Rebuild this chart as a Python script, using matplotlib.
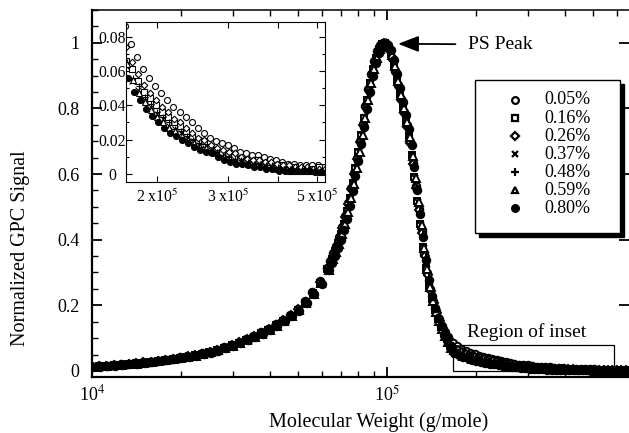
import numpy as np
import matplotlib
matplotlib.use("Agg")
import matplotlib.pyplot as plt
from matplotlib.patches import Rectangle
from matplotlib.ticker import FixedLocator, LogLocator, MultipleLocator, NullFormatter

plt.rcParams["font.family"] = ["Liberation Serif", "DejaVu Serif"]
plt.rcParams["mathtext.fontset"] = "stix"

# sampling grids in log10(M): low-MW side, peak, high-MW tail.
# runs B are sliced half a step later across the peak than runs A
LOG_MW_A = np.concatenate([
    np.arange(4.0, 4.8001, 0.025),
    np.arange(4.81, 5.2101, 0.01),
    np.arange(5.225, 5.8251, 0.015),
])
LOG_MW_B = np.concatenate([
    np.arange(4.0, 4.8001, 0.025),
    np.arange(4.815, 5.2151, 0.01),
    np.arange(5.225, 5.8251, 0.015),
])
# small per-run shift of the slices
SLICE_OFFSET = [-0.003, -0.002, -0.001, 0.0, 0.001, 0.002, 0.003]

LABELS = ["0.05%", "0.16%", "0.26%", "0.37%", "0.48%", "0.59%", "0.80%"]

# normalized GPC signal (low side + peak + tail)
sig_005 = [
    .014, .015, .016, .018, .020, .021, .024, .026, .028, .031, .034, .037, .041, .045, .049, .054, .059,
    .065, .072, .080, .088, .097, .107, .118, .129, .142, .156, .171, .190, .213, .240, .273, .315,
    .336, .358, .382, .408, .438, .472, .512, .556, .602, .650, .700, .752, .806, .858, .905, .945, .975,
    .992, 1.000, .996, .982, .955, .914, .870, .830, .790, .748, .698, .634, .563, .494, .425, .357, .297,
    .250, .213, .184, .158, .136, .118, .102,
    .086, .076, .068, .061, .056, .051, .047, .043, .039, .036, .033, .030, .027, .024, .021, .019, .018,
    .017, .015, .013, .012, .011, .011, .010, .009, .008, .007, .006, .006, .005, .005, .005, .005, .004,
    .004, .004, .003, .003, .003, .003, .002,
]
sig_016 = [
    .012, .014, .015, .017, .019, .020, .023, .025, .027, .030, .033, .036, .039, .043, .048, .052, .058,
    .063, .070, .078, .086, .095, .104, .115, .126, .139, .153, .168, .186, .208, .236, .268, .310,
    .341, .364, .389, .417, .449, .486, .527, .572, .618, .667, .718, .772, .826, .877, .920, .955, .980,
    .996, .999, .988, .965, .930, .887, .844, .804, .763, .716, .658, .590, .519, .449, .379, .315, .260,
    .218, .185, .157, .133, .113, .096, .077,
    .066, .061, .054, .048, .044, .040, .036, .033, .030, .028, .025, .022, .020, .019, .016, .014, .012,
    .012, .010, .009, .008, .007, .008, .006, .006, .005, .005, .004, .004, .003, .003, .003, .004, .002,
    .002, .002, .002, .002, .002, .002, .001,
]
sig_026 = [
    .013, .014, .016, .017, .019, .021, .023, .026, .028, .030, .033, .037, .040, .044, .049, .053, .059,
    .065, .071, .079, .087, .096, .106, .116, .128, .141, .155, .170, .188, .211, .238, .271, .313,
    .334, .356, .379, .406, .436, .470, .510, .554, .600, .647, .697, .750, .804, .857, .904, .944, .973,
    .991, 1.000, .996, .981, .953, .912, .868, .827, .787, .744, .694, .630, .559, .489, .419, .351, .291,
    .243, .207, .177, .152, .130, .111, .096,
    .074, .065, .058, .052, .047, .043, .039, .036, .032, .030, .027, .024, .021, .020, .017, .015, .014,
    .013, .012, .010, .009, .008, .008, .007, .007, .006, .005, .005, .004, .004, .004, .003, .003, .003,
    .003, .003, .002, .002, .002, .002, .002,
]
sig_037 = [
    .012, .013, .015, .017, .018, .020, .022, .025, .027, .029, .032, .035, .039, .043, .047, .052, .057,
    .063, .070, .077, .086, .094, .104, .115, .126, .139, .152, .167, .185, .208, .235, .268, .309,
    .341, .363, .388, .417, .448, .485, .527, .572, .619, .668, .719, .773, .826, .877, .920, .956, .981,
    .996, .998, .987, .964, .929, .886, .843, .803, .762, .715, .657, .588, .516, .446, .376, .312, .257,
    .215, .182, .154, .130, .109, .092, .072,
    .063, .054, .049, .043, .039, .035, .032, .028, .026, .024, .021, .019, .017, .015, .014, .012, .010,
    .009, .008, .008, .007, .006, .005, .005, .004, .003, .003, .003, .003, .002, .003, .002, .002, .001,
    .002, .002, .001, .002, .001, .001, .001,
]
sig_048 = [
    .013, .014, .015, .017, .019, .021, .023, .025, .027, .030, .032, .036, .040, .043, .048, .053, .058,
    .064, .070, .078, .086, .095, .105, .116, .127, .140, .153, .168, .187, .209, .236, .269, .311,
    .332, .354, .377, .404, .434, .467, .507, .551, .597, .644, .694, .747, .801, .854, .901, .941, .971,
    .990, 1.000, .995, .980, .951, .909, .865, .824, .784, .741, .691, .626, .554, .483, .413, .345, .284,
    .235, .199, .169, .144, .121, .102, .086,
    .065, .056, .051, .045, .041, .036, .033, .030, .026, .025, .022, .020, .018, .016, .014, .013, .011,
    .010, .009, .008, .007, .006, .006, .005, .005, .004, .003, .003, .003, .003, .003, .002, .002, .002,
    .002, .002, .001, .002, .002, .001, .001,
]
sig_059 = [
    .012, .014, .015, .017, .018, .020, .022, .025, .027, .029, .032, .035, .039, .043, .047, .052, .057,
    .063, .069, .077, .085, .094, .104, .114, .125, .138, .152, .167, .185, .207, .235, .267, .309,
    .340, .363, .388, .416, .448, .484, .526, .571, .618, .667, .718, .772, .825, .876, .919, .955, .980,
    .995, .998, .986, .964, .928, .885, .842, .802, .760, .714, .656, .587, .515, .445, .375, .311, .256,
    .214, .181, .153, .128, .107, .089, .071,
    .064, .055, .047, .042, .037, .033, .030, .027, .025, .022, .020, .018, .016, .015, .013, .011, .010,
    .009, .007, .007, .006, .005, .005, .004, .004, .003, .003, .002, .002, .002, .002, .002, .001, .001,
    .002, .001, .001, .001, .001, .001, .001,
]
sig_080 = [
    .012, .013, .015, .016, .018, .020, .022, .024, .026, .029, .032, .035, .038, .042, .047, .051, .056,
    .062, .069, .076, .085, .093, .103, .114, .125, .137, .151, .166, .184, .206, .234, .266, .308,
    .329, .350, .374, .400, .430, .464, .503, .547, .593, .641, .691, .744, .798, .851, .898, .939, .970,
    .989, 1.000, .994, .978, .949, .906, .862, .821, .781, .738, .688, .622, .550, .478, .407, .338, .278,
    .229, .192, .162, .136, .113, .093, .076,
    .056, .048, .043, .038, .034, .030, .027, .024, .022, .020, .018, .016, .014, .013, .012, .010, .008,
    .007, .006, .006, .005, .004, .004, .003, .003, .002, .002, .002, .002, .002, .002, .001, .001, .001,
    .001, .001, .001, .001, .001, .001, .001,
]
SERIES = [sig_005, sig_016, sig_026, sig_037, sig_048, sig_059, sig_080]
GRIDS = [LOG_MW_A, LOG_MW_B, LOG_MW_A, LOG_MW_B, LOG_MW_A, LOG_MW_B, LOG_MW_A]

REGION_MW = (1.67e5, 5.9e5)
REGION_TOP = 0.079
PEAK_MW, PEAK_Y = 1.09e5, 0.997

STYLES = [
    dict(marker="o", mfc="white", ms=5.4),
    dict(marker="s", mfc="white", ms=5.0),
    dict(marker="D", mfc="white", ms=4.2),
    dict(marker="x", ms=5.0),
    dict(marker="+", ms=5.8),
    dict(marker="^", mfc="white", ms=5.4),
    dict(marker="o", mfc="black", ms=5.4),
]

fig = plt.figure(figsize=(6.29, 4.33), dpi=100)
ax = fig.add_axes([92 / 629, 1 - 376.5 / 433, 537 / 629, 366.5 / 433])

for y, grid, off, st in zip(SERIES, GRIDS, SLICE_OFFSET, STYLES):
    ax.plot(10 ** (grid + off), y, ls="none", color="black", mec="black", mew=1.4, **st)

ax.set_xscale("log")
ax.set_xlim(1e4, 6.61e5)
ax.set_ylim(-0.017, 1.10)
ax.xaxis.set_major_locator(FixedLocator([1e4, 1e5]))
ax.set_xticklabels(["10$^4$", "10$^5$"])
ax.xaxis.set_minor_locator(LogLocator(base=10, subs=np.arange(2, 10), numticks=20))
ax.xaxis.set_minor_formatter(NullFormatter())
ax.yaxis.set_major_locator(FixedLocator([0, 0.2, 0.4, 0.6, 0.8, 1.0]))
ax.set_yticklabels(["0", "0.2", "0.4", "0.6", "0.8", "1"])
ax.yaxis.set_minor_locator(MultipleLocator(0.05))
ax.tick_params(which="both", direction="in", top=True, right=True, labelsize=13)
ax.tick_params(which="major", length=7, width=1.3)
ax.tick_params(which="minor", length=4, width=1.0)
ax.tick_params(axis="y", which="minor", right=False)
ax.tick_params(axis="x", pad=6)
ax.tick_params(axis="y", pad=9)
for side in ["left", "bottom"]:
    ax.spines[side].set_linewidth(1.6)
ax.spines["top"].set_linewidth(1.1)
ax.spines["right"].set_visible(False)

ax.set_xlabel("Molecular Weight (g/mole)", fontsize=14.5)
ax.set_ylabel("Normalized GPC Signal", fontsize=14.5)
ax.xaxis.set_label_coords(0.533, -0.098)
ax.yaxis.set_label_coords(-0.116, 0.349)

# region of inset box + label
ax.add_patch(Rectangle((REGION_MW[0], 0), REGION_MW[1] - REGION_MW[0], REGION_TOP,
                       fill=False, edgecolor="black", lw=0.9, zorder=1))
ax.text(2.98e5, 0.117, "Region of inset", ha="center", va="center", fontsize=14)

ax.annotate("PS Peak", xy=(PEAK_MW, PEAK_Y), xytext=(1.88e5, 0.995),
            ha="left", va="center", fontsize=14,
            arrowprops=dict(arrowstyle="-|>,head_length=0.9,head_width=0.35",
                            color="black", lw=1.3, shrinkA=7, shrinkB=0))

# legend drawn by hand to get the boxed, shadowed look
lx0, lx1, ly0, ly1 = 0.713, 0.983, 0.3915, 0.809
ax.add_patch(Rectangle((lx0 + 0.0075, ly0 - 0.011), lx1 - lx0, ly1 - ly0,
                       transform=ax.transAxes, facecolor="black", edgecolor="black", zorder=5))
ax.add_patch(Rectangle((lx0, ly0), lx1 - lx0, ly1 - ly0, transform=ax.transAxes,
                       facecolor="white", edgecolor="black", lw=1.0, zorder=6))
for i, (lab, st) in enumerate(zip(LABELS, STYLES)):
    yy = (376.5 - (100 + 18.05 * i)) / 366.5
    st2 = dict(st)
    st2["ms"] = st["ms"] * 0.9
    ax.plot([0.7877], [yy], ls="none", color="black", mec="black", mew=1.6,
            transform=ax.transAxes, zorder=7, clip_on=False, **st2)
    ax.text(0.8417, yy, lab, transform=ax.transAxes, ha="left", va="center",
            fontsize=13, zorder=7)

# inset
axi = fig.add_axes([126 / 629, 1 - 182 / 433, 199 / 629, 160 / 433])
for y, grid, off, st in zip(SERIES, GRIDS, SLICE_OFFSET, STYLES):
    st2 = dict(st)
    st2["ms"] = st["ms"] * 0.8
    axi.plot(10 ** (grid + off), y, ls="none", color="black", mec="black", mew=0.8, **st2)
axi.set_xscale("log")
axi.set_xlim(1.675e5, 5.23e5)
axi.set_ylim(-0.0047, 0.0886)
axi.xaxis.set_major_locator(FixedLocator([2e5, 3e5, 4e5, 5e5]))
axi.set_xticklabels(["2 x10$^5$", "3 x10$^5$", "", "5 x10$^5$"])
axi.xaxis.set_minor_locator(FixedLocator([]))
axi.yaxis.set_major_locator(FixedLocator([0, 0.02, 0.04, 0.06, 0.08]))
axi.set_yticklabels(["0", "0.02", "0.04", "0.06", "0.08"])
axi.yaxis.set_minor_locator(MultipleLocator(0.01))
axi.tick_params(which="both", direction="in", top=True, right=True, labelsize=11.3, width=0.8)
axi.tick_params(which="major", length=4)
axi.tick_params(which="minor", length=2.5)
axi.tick_params(axis="x", pad=5)
axi.tick_params(axis="y", pad=10)
for lab in axi.get_yticklabels():
    lab.set_ha("center")
for sp in axi.spines.values():
    sp.set_linewidth(0.8)

fig.savefig("out.png", dpi=100)
